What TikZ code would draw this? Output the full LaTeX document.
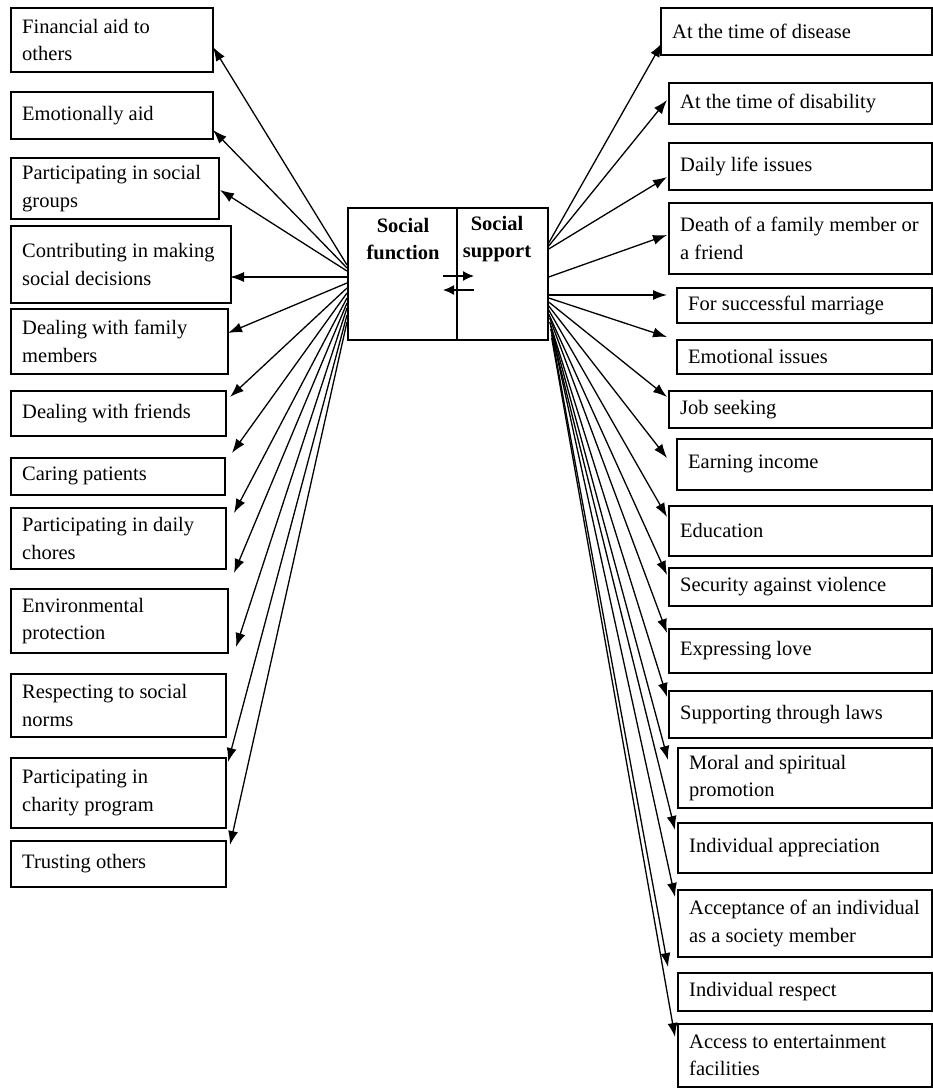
\documentclass[tikz,border=0pt]{standalone}
\usepackage{fontspec}
\setmainfont{Liberation Serif}
\usetikzlibrary{arrows.meta,calc}
\newcommand\mkbox[6]{%
  \pgfmathsetmacro\bxw{#4-#2}\pgfmathsetmacro\bxh{#5-#3}%
  \node[box, anchor=north west, minimum width=\bxw pt, minimum height=\bxh pt] (#1) at (#2,#3) {};
  \node[btext, anchor=west] (#1t) at ($(#1.west)+(12,0)$) {#6};}
\begin{document}
\begin{tikzpicture}[x=1pt,y=-1pt,
  box/.style={draw, line width=1.7pt, rectangle, inner sep=0pt},
  btext/.style={inner xsep=0pt, inner ysep=2pt, align=left, font=\fontsize{20.5}{27.5}\selectfont},
  cbox/.style={draw, line width=1.7pt, rectangle, inner sep=0pt},
  ctext/.style={align=center, font=\fontsize{20.5}{27.5}\selectfont\bfseries},
  arr/.style={line width=1.3pt, -{Latex[length=14pt,width=10pt]}},
  sarr/.style={line width=1.3pt, -{Latex[length=11pt,width=10pt]}}]
\fill[white] (0,0) rectangle (933,1088);
\useasboundingbox (0,0) rectangle (933,1088);
% central box
\node[cbox, anchor=north west, minimum width=109pt, minimum height=132pt] (func) at (347,207) {};
\node[cbox, anchor=north west, minimum width=91pt, minimum height=132pt] (supp) at (456,207) {};
\node[ctext] (functext) at (403,239) {Social\\function};
\node[ctext] (supptext) at (497,239) {Social\\support};
\coordinate (ca1) at (443,276); \coordinate (ca2) at (474,276);
\coordinate (cb1) at (474,290); \coordinate (cb2) at (443,290);
\draw[sarr] (ca1) -- (ca2);
\draw[sarr] (cb1) -- (cb2);
% left boxes
\mkbox{L1}{10}{7}{212}{71}{Financial aid to\\others}
\mkbox{L2}{10}{91}{212}{138}{Emotionally aid}
\mkbox{L3}{10}{157}{218}{218}{Participating in social\\groups}
\mkbox{L4}{10}{225}{230}{302}{Contributing in making\\social decisions}
\mkbox{L5}{10}{308}{227}{373}{Dealing with family\\members}
\mkbox{L6}{10}{390}{225}{435}{Dealing with friends}
\mkbox{L7}{10}{457}{224}{494}{Caring patients}
\mkbox{L8}{10}{507}{225}{568}{Participating in daily\\chores}
\mkbox{L9}{10}{588}{227}{652}{Environmental\\protection}
\mkbox{L10}{10}{673}{225}{736}{Respecting to social\\norms}
\mkbox{L11}{10}{757}{225}{827}{Participating in\\charity program}
\mkbox{L12}{10}{840}{225}{886}{Trusting others}
% right boxes
\mkbox{R1}{660}{7}{931}{54}{At the time of disease}
\mkbox{R2}{668}{82}{931}{123}{At the time of disability}
\mkbox{R3}{668}{142}{931}{189}{Daily life issues}
\mkbox{R4}{668}{202}{931}{273}{Death of a family member or\\a friend}
\mkbox{R5}{676}{287}{931}{322}{For successful marriage}
\mkbox{R6}{676}{339}{931}{373}{Emotional issues}
\mkbox{R7}{668}{390}{931}{427}{Job seeking}
\mkbox{R8}{676}{438}{931}{489}{Earning income}
\mkbox{R9}{668}{505}{931}{555}{Education}
\mkbox{R10}{668}{567}{931}{605}{Security against violence}
\mkbox{R11}{668}{628}{931}{672}{Expressing love}
\mkbox{R12}{668}{690}{931}{737}{Supporting through laws}
\mkbox{R13}{677}{747}{931}{807}{Moral and spiritual\\promotion}
\mkbox{R14}{677}{822}{931}{872}{Individual appreciation}
\mkbox{R15}{677}{889}{931}{956}{Acceptance of an individual\\as a society member}
\mkbox{R16}{677}{972}{931}{1010}{Individual respect}
\mkbox{R17}{677}{1023}{931}{1086}{Access to entertainment\\facilities}
% left connectors
\foreach \i/\sy/\tx/\ty in {1/265/213/47, 2/268/213/130, 3/271/220/190, 4/277/230/277,
  5/283/228/333, 6/288/230/397, 7/293/232/453, 8/298/234/513, 9/303/234/573,
  10/308/236/647, 11/315/228/762, 12/322/230/845}{
  \coordinate (ls\i) at ($(func.north west)+(0,\sy-207)$);
  \coordinate (lt\i) at (\tx,\ty);
  \draw[arr] (ls\i) -- (lt\i);
}
% right connectors
\foreach \i/\sx/\sy/\tx/\ty in {1/547/243/662/43, 2/547/246/667/100, 3/547/249/667/177,
  4/547/277/667/235, 5/547/295/667/295, 6/547/298/667/337, 7/547/302/667/397,
  8/547/306/667/458, 9/547/310/667/517, 10/547/314/667/575, 11/548/318/667/633,
  12/548/322/667/697, 13/549/326/668/760, 14/549/329/675/830, 15/550/332/675/897,
  16/550/335/668/967, 17/550/338/675/1037}{
  \coordinate (rs\i) at ($(supp.north east)+(\sx-547,\sy-207)$);
  \coordinate (rt\i) at (\tx,\ty);
  \draw[arr] (rs\i) -- (rt\i);
}
\end{tikzpicture}
\end{document}
